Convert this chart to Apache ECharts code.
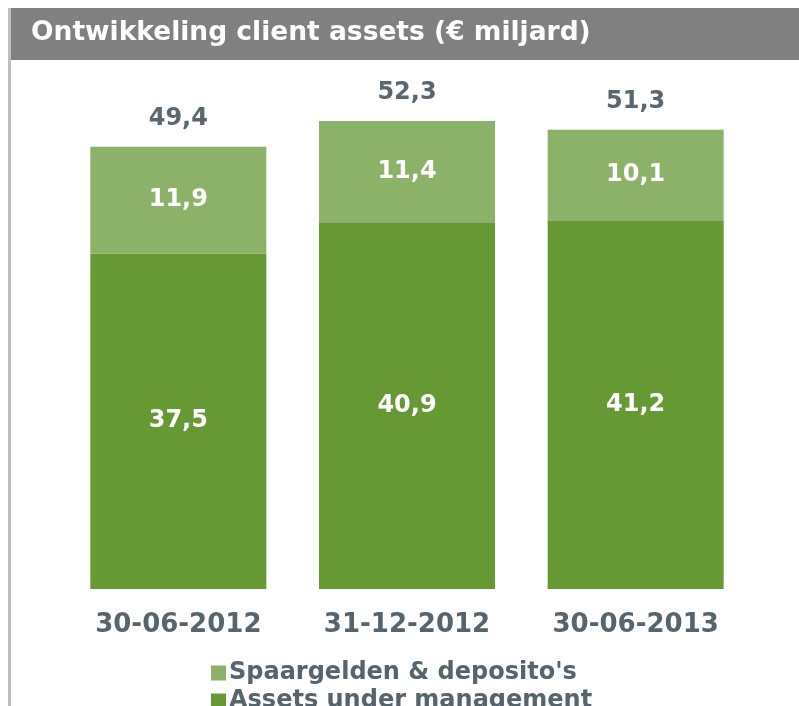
<!DOCTYPE html>
<html>
<head>
<meta charset="utf-8">
<script src="https://cdn.jsdelivr.net/npm/echarts@6/dist/echarts.min.js"></script>
<style>
  html, body { margin: 0; padding: 0; background: #fff; }
  #main { width: 799px; height: 706px; }
</style>
</head>
<body>
<div id="main"></div>
<script>
// data
const categories = ['30-06-2012', '31-12-2012', '30-06-2013']
const spaargelden = [11.9, 11.4, 10.1]
const aum = [37.5, 40.9, 41.2]
const totals = [49.4, 52.3, 51.3]

const fmt = v => String(v).replace('.', ',')
const font = 'DejaVu Sans, Verdana, sans-serif'
const grey = '#56646e'

// legend text style, used by both rows
const legendText = { color: grey, fontSize: 24, fontWeight: 'bold', fontFamily: font, padding: [0, 0, 0, -2] }

const myChart = echarts.init(document.querySelector('#main'))
const option = {
  animation: false,
  title: {
    text: 'Ontwikkeling client assets (€ miljard)',
    left: 31,
    top: 20,
    padding: 0,
    textStyle: { color: '#fff', fontSize: 26.5, fontWeight: 'bold', fontFamily: font }
  },
  // title bar + left border line
  graphic: [
    { type: 'rect', z: -1, shape: { x: 10, y: 8, width: 789, height: 52 }, style: { fill: '#808080' } },
    { type: 'rect', z: -1, shape: { x: 8, y: 8, width: 3, height: 698 }, style: { fill: '#b9c1c5' } }
  ],
  // two legends, one row each
  legend: [
    {
      left: 206, top: 656, itemWidth: 15, itemHeight: 15, icon: 'rect',
      data: ["Spaargelden & deposito's"], textStyle: legendText
    },
    {
      left: 206, top: 684, itemWidth: 15, itemHeight: 15, icon: 'rect',
      data: ['Assets under management'], textStyle: legendText
    }
  ],
  grid: { left: 64, right: 49, top: 52, bottom: 117 },
  xAxis: {
    type: 'category',
    data: categories,
    axisLine: { show: false },
    axisTick: { show: false },
    axisLabel: { color: grey, fontSize: 26, fontWeight: 'bold', fontFamily: font, margin: 23 }
  },
  yAxis: {
    type: 'value',
    min: 0,
    max: 60,
    show: false,
    splitLine: { show: false }
  },
  series: [
    {
      name: 'Assets under management',
      type: 'bar',
      stack: 'a',
      barWidth: 176,
      data: aum,
      itemStyle: { color: '#669933' },
      label: {
        show: true, position: 'inside', color: '#fff', fontSize: 24, fontWeight: 'bold', fontFamily: font,
        formatter: p => fmt(p.value)
      }
    },
    {
      name: "Spaargelden & deposito's",
      type: 'bar',
      stack: 'a',
      barWidth: 176,
      data: spaargelden,
      itemStyle: { color: '#8cb168' },
      label: {
        show: true, position: 'inside', color: '#fff', fontSize: 24, fontWeight: 'bold', fontFamily: font,
        formatter: p => fmt(p.value)
      }
    },
    {
      // totals above bars: zero-height bar on top of the stack
      name: 'totaal',
      type: 'bar',
      stack: 'a',
      barWidth: 176,
      data: totals.map(() => 0),
      silent: true,
      itemStyle: { color: 'transparent' },
      label: {
        show: true, position: 'top', distance: 16, color: '#5b6770', fontSize: 24, fontWeight: 'bold', fontFamily: font,
        formatter: p => fmt(totals[p.dataIndex])
      }
    }
  ]
}
myChart.setOption(option)
</script>
</body>
</html>
